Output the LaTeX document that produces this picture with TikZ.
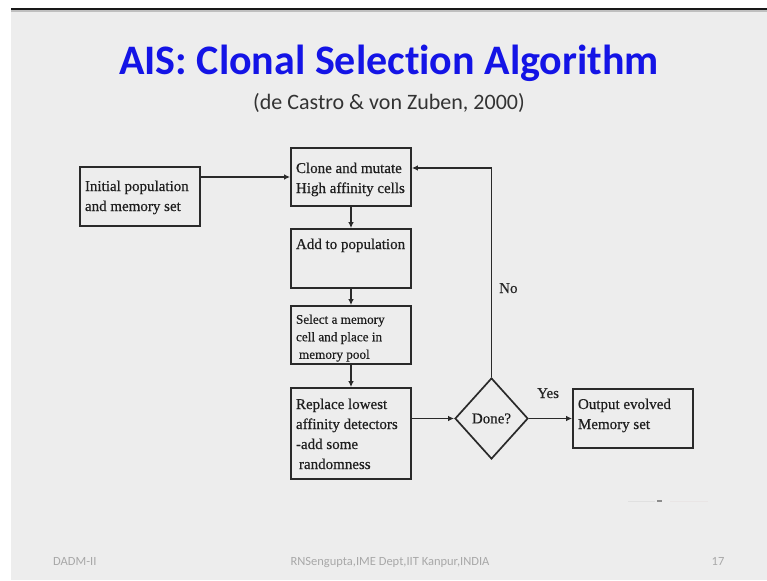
\documentclass[tikz,border=0pt]{standalone}
\usepackage{fontspec}
\setmainfont{Liberation Serif}[FakeBold=0.5]
\newfontfamily\slidefont{Carlito}[Ligatures=NoCommon]
\usetikzlibrary{shapes.geometric,arrows.meta}

\definecolor{slidebg}{HTML}{EDEDED}
\definecolor{titleblue}{HTML}{1414E6}
\definecolor{subgray}{HTML}{333333}
\definecolor{footgray}{HTML}{A8A8A8}
\definecolor{inkline}{HTML}{2A2A2A}

% box text: height, gap above first line, font size, baseline skip, text
\newcommand\boxtext[5]{\parbox[c][#1][t]{116pt}{\fontsize{#3}{#4}\selectfont\raggedright\leftskip=3pt\vspace*{#2}\strut#5}}

\begin{document}
\begin{tikzpicture}[x=1pt,y=-1pt,
  flowbox/.style={draw=inkline, line width=1.7pt, inner xsep=2pt, inner ysep=0pt,
    minimum width=120pt, fill=slidebg, text=black!88},
  flowarrow/.style={draw=inkline, line width=1.4pt, -{Latex[length=6pt,width=5.5pt]}},
  decision/.style={draw=inkline, line width=1.7pt, shape=diamond, inner sep=0pt,
    minimum width=73pt, minimum height=81pt, text=black!88, font=\fontsize{15}{18}\selectfont},
  tag/.style={inner sep=0pt, font=\fontsize{15}{18}\selectfont, text=black!85},
  footer/.style={inner sep=0pt, font=\slidefont\fontsize{12.5}{14}\selectfont, text=footgray}]

% page, slide area and top rule
\useasboundingbox (0,0) rectangle (767,580);
\fill[white] (0,0) rectangle (767,580);
\fill[slidebg] (11,10) rectangle (767,580);
\fill[black!90] (11,8) rectangle (767,10.2);
\fill[black!25] (11,10.2) rectangle (767,12);

% heading
\node[inner sep=0pt, text=titleblue, anchor=base] (title) at (389,75)
  {\slidefont\bfseries\fontsize{42}{50}\selectfont AIS: Clonal Selection Algorithm};
\node[inner sep=0pt, text=subgray, anchor=base] (cite) at (389,110)
  {\slidefont\fontsize{22}{26}\selectfont (de Castro \& von Zuben, 2000)};

% process boxes
\node[flowbox] (init) at (140,196.5)
  {\boxtext{59pt}{10pt}{15}{20}{Initial population\\and memory set}};
\node[flowbox] (clone) at (351,177)
  {\boxtext{58pt}{11pt}{15}{20}{Clone and mutate\\High affinity cells}};
\node[flowbox] (add) at (351,258.5)
  {\boxtext{59pt}{6pt}{15}{20}{Add to population}};
\node[flowbox] (sel) at (351,335)
  {\boxtext{58pt}{5.5pt}{13.2}{17.5}{Select a memory\\cell and place in\\\hspace*{3pt}memory pool}};
\node[flowbox] (rep) at (351,433.5)
  {\boxtext{91pt}{7pt}{15}{20}{Replace lowest\\affinity detectors\\-add some\\\hspace*{3pt}randomness}};
\node[decision] (done) at (491.5,418.5) {Done?};
\node[flowbox] (out) at (633,418.5)
  {\boxtext{59pt}{6pt}{15}{20}{Output evolved\\Memory set}};

% connectors
\draw[flowarrow] (init.east |- clone.west) -- (clone.west);
\draw[flowarrow] (clone.south) -- (add.north);
\draw[flowarrow] (add.south) -- (sel.north);
\draw[flowarrow] (sel.south) -- (rep.north);
\draw[flowarrow] (rep.east |- done.west) -- (done.west);
\draw[flowarrow] (done.east) -- (out.west);
\coordinate (loopup) at (done.north |- 0,168);
\draw[flowarrow] (done.north) -- (loopup) -- (clone.east |- loopup);

% branch labels
\node[tag, anchor=base west] (yes) at (537,398) {Yes};
\node[tag, anchor=base west] (no) at (499,293) {No};

% faint stroke lower right
\draw[line width=1pt, black!12] (628,501) -- (655,501);
\draw[line width=1.5pt, black!45] (657,501) -- (662,501);
\draw[line width=1pt, red!15!black!10] (670,501) -- (708,501);

% footer
\node[footer, anchor=base west] (foot1) at (53,565) {DADM-II};
\node[footer, anchor=base] (foot2) at (390,565) {RNSengupta,IME Dept,IIT Kanpur,INDIA};
\node[footer, anchor=base] (foot3) at (718,565) {17};
\end{tikzpicture}
\end{document}
